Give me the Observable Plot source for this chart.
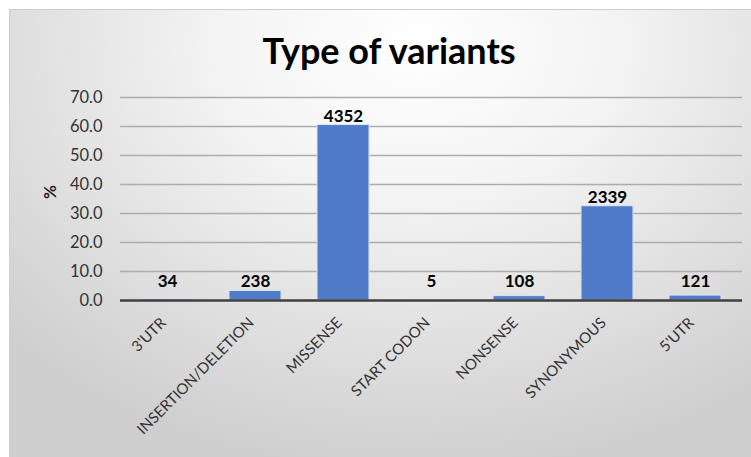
<!DOCTYPE html>
<html><head><meta charset="utf-8">
<script src="https://cdn.jsdelivr.net/npm/d3@7"></script>
<script src="https://cdn.jsdelivr.net/npm/@observablehq/plot@0.6"></script>
<style>
html,body{margin:0;padding:0;background:#fff;}
#frame{position:absolute;left:9px;top:9px;width:742px;height:448px;box-shadow:inset 1px 1px 0 #cfcfcf;background:radial-gradient(ellipse 75% 95% at 55% 8%, #ffffff 0%, #f4f4f4 35%, #cfcfcf 100%);font-family:Lato,sans-serif;overflow:hidden;}
#title{position:absolute;left:9px;width:100%;top:21px;line-height:40px;text-align:center;font-size:36px;font-weight:bold;color:#000;}
#chart{position:absolute;left:0;top:71px;}
</style></head><body>
<div id="frame"><div id="title">Type of variants</div><div id="chart"></div></div>
<script>
const categories = ["3'UTR","INSERTION/DELETION","MISSENSE","START CODON","NONSENSE","SYNONYMOUS","5'UTR"];
const percents = [0.5, 3.3, 60.5, 0.1, 1.5, 32.5, 1.7];
const counts = [34, 238, 4352, 5, 108, 2339, 121];
const yTicks = [0, 10, 20, 30, 40, 50, 60, 70];
const data = categories.map((c, i) => ({category: c, pct: percents[i], count: counts[i]}));

const plot = Plot.plot({
  width: 742, height: 377,
  marginTop: 17, marginLeft: 111, marginRight: 9, marginBottom: 157,
  style: {background: "transparent", fontFamily: "Lato, sans-serif", color: "#333"},
  x: {domain: categories, paddingInner: 0.41, paddingOuter: 0.205, label: null},
  y: {domain: [0, 70], label: null},
  marks: [
    Plot.ruleY(yTicks.slice(1), {stroke: "#adadad", strokeWidth: 1.5}),
    Plot.barY(data, {x: "category", y: "pct", fill: "#4f7bc8", stroke: "#dce6f5", strokeWidth: 1}),
    Plot.ruleY([0], {stroke: "#404040", strokeWidth: 2.5}),
    Plot.text(data, {x: "category", y: d => Math.max(d.pct, 3.3), text: d => String(d.count), dy: -9, fontSize: 17, fontWeight: "bold", fill: "#000"}),
    Plot.axisY({ticks: yTicks, tickFormat: d => d.toFixed(1), tickSize: 0, dx: -9, fontSize: 16.5, label: null}),
    Plot.axisX({tickSize: 0, tickRotate: -45, dy: 8, dx: -4, fontSize: 15, label: null}),
    Plot.text(["%"], {frameAnchor: "left", text: d => d, dx: -70, dy: 0, rotate: -90, fontSize: 17, fontWeight: "bold", fill: "#222"})
  ]
});
document.getElementById("chart").appendChild(plot);
</script>
</body></html>
